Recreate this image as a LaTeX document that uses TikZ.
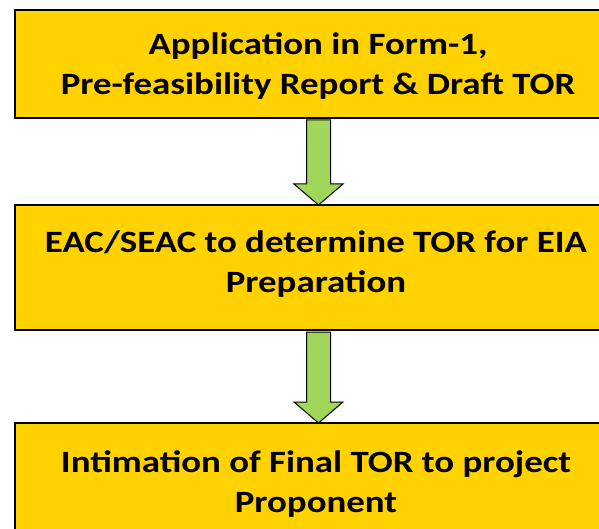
\documentclass[tikz,border=0pt]{standalone}
\usepackage{fontspec}
\setmainfont{Carlito}[FakeStretch=1.19]
\usetikzlibrary{calc}
\definecolor{boxyellow}{RGB}{255,210,0}
\definecolor{arrowgreen}{RGB}{160,214,90}
\tikzset{
  stagebox/.style={draw=black, line width=1.8pt, fill=boxyellow, minimum width=607pt, inner sep=0pt, outer sep=0pt},
  stagetext/.style={align=center, font=\fontsize{31}{40}\selectfont\bfseries, text=black, inner sep=0pt},
  blockarrow/.style={draw=black, line width=1pt, fill=arrowgreen, line join=miter},
}
\newcommand\flowarrow[2]{%
  \draw[blockarrow] ($(#1.south)+(-12,2)$) -- ($(#2.north)+(-12,-21)$) -- ($(#2.north)+(-24.5,-21)$)
    -- (#2.north) -- ($(#2.north)+(24.5,-21)$) -- ($(#2.north)+(12,-21)$) -- ($(#1.south)+(12,2)$) -- cycle;}
\begin{document}
\begin{tikzpicture}[x=1pt, y=-1pt]
\path[use as bounding box, fill=white] (0,0) rectangle (599,529);
\clip (0,0) rectangle (599,529);
\node[stagebox, minimum height=108pt] (b1) at (318.5,64) {};
\node[stagebox, minimum height=125pt] (b2) at (318.5,267.5) {};
\node[stagebox, minimum height=124pt] (b3) at (318.5,485) {};
\node[stagetext] (t1) at (318,66) {Application in Form-1,\\ Pre-feasibility Report \& Draft TOR};
\node[stagetext] (t2) at (316,264) {EAC/SEAC to determine TOR for EIA\\Preparation};
\node[stagetext] (t3) at (316,484) {Intimation of Final TOR to project\\Proponent};
\flowarrow{b1}{b2}
\flowarrow{b2}{b3}
\end{tikzpicture}
\end{document}
